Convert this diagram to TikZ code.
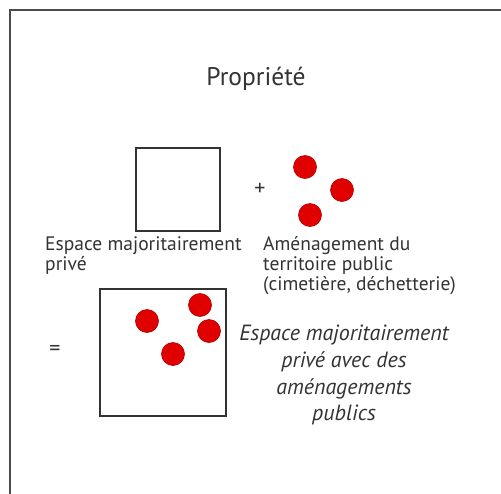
\documentclass[tikz,border=0pt]{standalone}
\usepackage{fontspec}
\setmainfont{PT Sans}
\begin{document}
\begin{tikzpicture}[x=1pt,y=-1pt,
  frame/.style={draw=black!70,line width=2.6pt},
  box/.style={draw=black!80,line width=1.8pt},
  dot/.style={circle,fill=red!88!black,draw=red!70!black,line width=0.6pt,minimum size=23pt,inner sep=0pt},
  lab/.style={font=\fontsize{19.5}{20}\selectfont,text=black!80,inner sep=0pt,anchor=base west},
  res/.style={font=\fontsize{22}{26}\selectfont\itshape,text=black!80,inner sep=0pt,anchor=base}]
\useasboundingbox (0,0) rectangle (501,493);
\fill[white] (0,0) rectangle (501,493);
\draw[frame] (10,520) -- (10,10) -- (520,10);
\node[font=\fontsize{25.5}{28}\selectfont,text=black!80,anchor=base,inner sep=0pt] (title) at (256,85) {Propriété};
\node[box,minimum width=84pt,minimum height=83pt,inner sep=0pt] (sq1) at (178,189.5) {};
\node[font=\fontsize{22}{24}\selectfont,text=black!80] (plus) at (260,189) {+};
\node[dot] (d1) at (305,167) {};
\node[dot] (d2) at (342,190) {};
\node[dot] (d3) at (310,215) {};
\node[lab] (l1a) at (45,250) {Espace majoritairement};
\node[lab] (l1b) at (45,270) {privé};
\node[lab] (l2a) at (263,250) {Aménagement du};
\node[lab] (l2b) at (263,270) {territoire public};
\node[lab] (l2c) at (263,290) {(cimetière, déchetterie)};
\node[font=\fontsize{22}{24}\selectfont,text=black!80] (eq) at (55,350) {=};
\node[box,minimum width=126pt,minimum height=127pt,inner sep=0pt] (sq2) at (163,352.5) {};
\node[dot] (e1) at (147,321) {};
\node[dot] (e2) at (200,305) {};
\node[dot] (e3) at (209,331) {};
\node[dot] (e4) at (173,354) {};
\node[res] (ra) at (344,340) {Espace majoritairement};
\node[res] (rb) at (344,367) {privé avec des};
\node[res] (rc) at (344,394) {aménagements};
\node[res] (rd) at (344,420) {publics};
\end{tikzpicture}
\end{document}
